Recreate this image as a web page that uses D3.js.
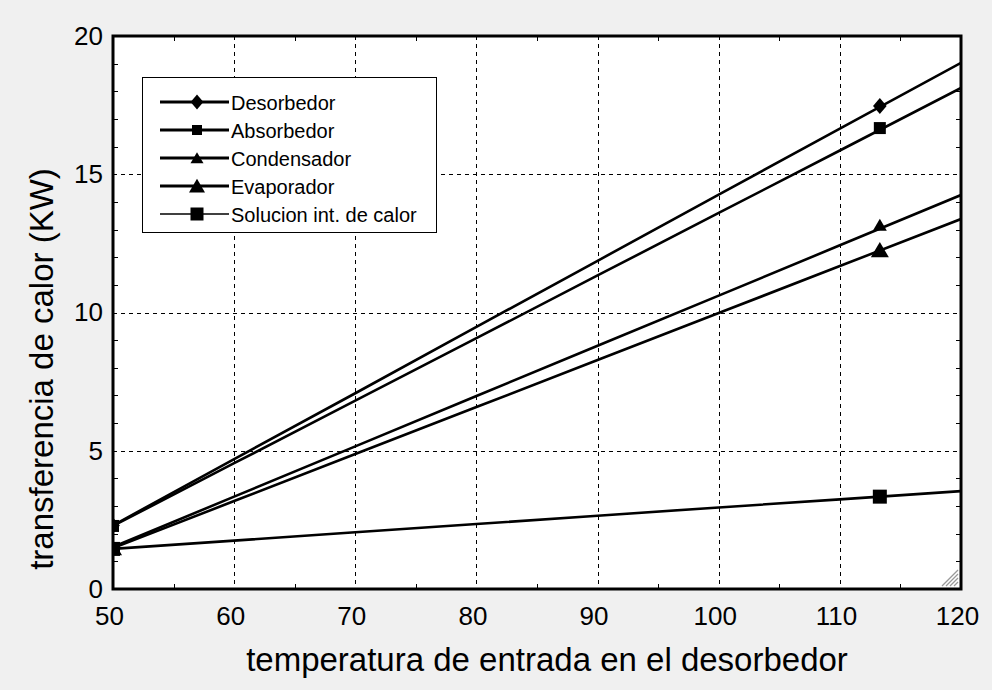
<!DOCTYPE html>
<html>
<head>
<meta charset="utf-8">
<script src="https://cdn.jsdelivr.net/npm/d3@7"></script>
<style>
  html, body { margin: 0; padding: 0; background: #f0f0f0; }
  svg { display: block; }
  text { font-family: Arial, "Liberation Sans", sans-serif; fill: #000; }
</style>
</head>
<body>
<svg id="chart" width="992" height="690"></svg>
<script>
// Inlet temperature of the desorber (°C)
const temps = [50, 60, 70, 80, 90, 100, 110, 120];

// Heat transfer per component (kW)
const desorbedor  = [2.30, 4.70, 7.08, 9.48, 11.87, 14.26, 16.65, 19.03];
const absorbedor  = [2.28, 4.55, 6.81, 9.07, 11.34, 13.60, 15.86, 18.12];
const condensador = [1.52, 3.34, 5.16, 6.98, 8.80, 10.61, 12.43, 14.25];
const evaporador  = [1.48, 3.18, 4.88, 6.58, 8.28, 9.98, 11.68, 13.38];
const solucion    = [1.45, 1.75, 2.05, 2.35, 2.65, 2.95, 3.24, 3.54];

// Temperatures where each curve carries a symbol
const markerTemps = [50, 113.3];
const markerDes = [2.30, 17.47];
const markerAbs = [2.28, 16.67];
const markerCon = [1.52, 13.16];
const markerEva = [1.48, 12.26];
const markerSol = [1.45, 3.34];

const xTicks = [50, 60, 70, 80, 90, 100, 110, 120];
const yTicks = [0, 5, 10, 15, 20];

const xTitle = "temperatura de entrada en el desorbedor";
const yTitle = "transferencia de calor (KW)";

const series = [
  { name: "Desorbedor", values: desorbedor, marks: markerDes, symbol: "diamond", size: 16, legendSize: 15, legendWidth: 3 },
  { name: "Absorbedor", values: absorbedor, marks: markerAbs, symbol: "square", size: 12, legendSize: 10, legendWidth: 3 },
  { name: "Condensador", values: condensador, marks: markerCon, symbol: "tri", size: 14, legendSize: 13, legendWidth: 3 },
  { name: "Evaporador", values: evaporador, marks: markerEva, symbol: "tri", size: 18, legendSize: 16, legendWidth: 3 },
  { name: "Solucion int. de calor", values: solucion, marks: markerSol, symbol: "square", size: 14, legendSize: 13, legendWidth: 1.5 }
];

const svg = d3.select("#chart");
const plot = { left: 113, right: 961, top: 36, bottom: 589 };

const x = d3.scaleLinear().domain([50, 120]).range([plot.left, plot.right]);
const y = d3.scaleLinear().domain([0, 20]).range([plot.bottom, plot.top]);

svg.append("rect").attr("width", 992).attr("height", 690).attr("fill", "#f0f0f0");

svg.append("defs").append("clipPath").attr("id", "plotClip")
  .append("rect")
  .attr("x", plot.left).attr("y", plot.top)
  .attr("width", plot.right - plot.left).attr("height", plot.bottom - plot.top);

svg.append("rect")
  .attr("x", plot.left).attr("y", plot.top)
  .attr("width", plot.right - plot.left).attr("height", plot.bottom - plot.top)
  .attr("fill", "#fff");

// Dashed grid at major ticks
const grid = svg.append("g").attr("stroke", "#000").attr("stroke-width", 1).attr("stroke-dasharray", "4,4");
xTicks.slice(1, -1).forEach(t => {
  grid.append("line").attr("x1", Math.round(x(t)) + 0.5).attr("x2", Math.round(x(t)) + 0.5)
    .attr("y1", plot.top).attr("y2", plot.bottom);
});
yTicks.slice(1, -1).forEach(t => {
  grid.append("line").attr("y1", Math.round(y(t)) + 0.5).attr("y2", Math.round(y(t)) + 0.5)
    .attr("x1", plot.left).attr("x2", plot.right);
});

// Minor ticks pointing inward on all four sides
const minorX = d3.range(55, 120, 5).filter(v => v % 10 !== 0);
const minorY = d3.range(1, 20, 1).filter(v => v % 5 !== 0);
const ticks = svg.append("g").attr("stroke", "#000").attr("stroke-width", 1);
minorX.forEach(t => {
  const px = Math.round(x(t)) + 0.5;
  ticks.append("line").attr("x1", px).attr("x2", px).attr("y1", plot.bottom).attr("y2", plot.bottom - 5);
  ticks.append("line").attr("x1", px).attr("x2", px).attr("y1", plot.top).attr("y2", plot.top + 5);
});
minorY.forEach(t => {
  const py = Math.round(y(t)) + 0.5;
  ticks.append("line").attr("y1", py).attr("y2", py).attr("x1", plot.left).attr("x2", plot.left + 5);
  ticks.append("line").attr("y1", py).attr("y2", py).attr("x1", plot.right).attr("x2", plot.right - 5);
});

// Axes (labels only; frame drawn separately)
const xAxis = svg.append("g").attr("transform", `translate(-4,${plot.bottom})`)
  .call(d3.axisBottom(x).tickValues(xTicks).tickSize(0).tickPadding(18));
const yAxis = svg.append("g").attr("transform", `translate(${plot.left},0)`)
  .call(d3.axisLeft(y).tickValues(yTicks).tickSize(0).tickPadding(10));
[xAxis, yAxis].forEach(a => {
  a.select(".domain").remove();
  a.selectAll("text").attr("font-size", 26).attr("font-family", "Arial, 'Liberation Sans', sans-serif").attr("fill", "#000");
});

// Data curves
const line = d3.line().x((d, i) => x(temps[i])).y(d => y(d));
const curves = svg.append("g").attr("clip-path", "url(#plotClip)");

function symbolPath(kind, size) {
  const h = size / 2;
  if (kind === "diamond") return `M0,${-h}L${h * 0.85},0L0,${h}L${-h * 0.85},0Z`;
  if (kind === "square") return `M${-h},${-h}H${h}V${h}H${-h}Z`;
  // upward triangle
  return `M0,${-h * 0.9}L${h},${h * 0.8}L${-h},${h * 0.8}Z`;
}

series.forEach(s => {
  curves.append("path").datum(s.values).attr("d", line)
    .attr("fill", "none").attr("stroke", "#000").attr("stroke-width", 2.6);
  curves.selectAll(null).data(s.marks).enter().append("path")
    .attr("d", symbolPath(s.symbol, s.size))
    .attr("transform", (d, i) => `translate(${x(markerTemps[i])},${y(d)})`)
    .attr("fill", "#000");
});

// Frame
svg.append("rect")
  .attr("x", plot.left).attr("y", plot.top)
  .attr("width", plot.right - plot.left).attr("height", plot.bottom - plot.top)
  .attr("fill", "none").attr("stroke", "#000").attr("stroke-width", 3);

// Resize grip in the lower right corner
const grip = svg.append("g").attr("stroke", "#999").attr("stroke-width", 1.2);
[4, 8, 12, 16].forEach(k => {
  grip.append("line").attr("x1", plot.right - 3 - k).attr("y1", plot.bottom - 3)
    .attr("x2", plot.right - 3).attr("y2", plot.bottom - 3 - k);
});

// Legend
const leg = svg.append("g");
leg.append("rect").attr("x", 142.5).attr("y", 77.5).attr("width", 294).attr("height", 155)
  .attr("fill", "#fff").attr("stroke", "#000").attr("stroke-width", 1);
series.forEach((s, i) => {
  const cy = 102 + i * 28;
  leg.append("line").attr("x1", 160).attr("x2", 229).attr("y1", cy).attr("y2", cy)
    .attr("stroke", "#000").attr("stroke-width", s.legendWidth);
  leg.append("path").attr("d", symbolPath(s.symbol, s.legendSize))
    .attr("transform", `translate(197,${cy})`).attr("fill", "#000");
  leg.append("text").attr("x", 231).attr("y", cy + 8).attr("font-size", 20).text(s.name);
});

// Axis titles
svg.append("text").attr("x", 547).attr("y", 671).attr("text-anchor", "middle")
  .attr("font-size", 33).text(xTitle);
svg.append("text").attr("transform", "translate(53,369) rotate(-90)").attr("text-anchor", "middle")
  .attr("font-size", 33).text(yTitle);
</script>
</body>
</html>
